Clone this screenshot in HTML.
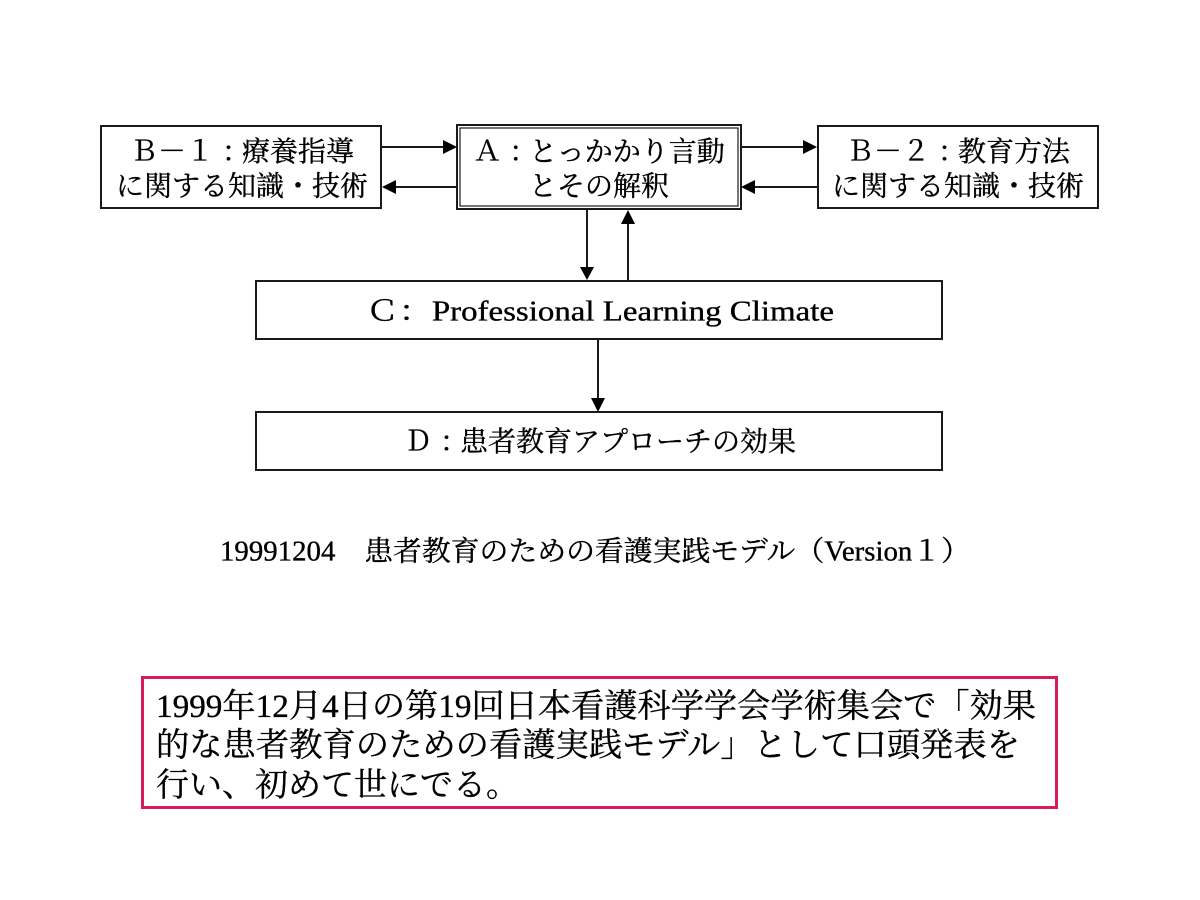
<!DOCTYPE html>
<html>
<head>
<meta charset="utf-8">
<style>
html,body{margin:0;padding:0;background:#fff;}
svg{display:block;}
text{font-family:"Liberation Serif","Noto Serif CJK SC","Noto Serif CJK JP",serif;fill:#000;stroke:#000;stroke-width:0.35;}
</style>
</head>
<body>
<svg width="1200" height="900" viewBox="0 0 1200 900" xmlns="http://www.w3.org/2000/svg">
<rect x="0" y="0" width="1200" height="900" fill="#fff"/>
<g fill="none" stroke="#1a1a1a" stroke-width="2">
  <!-- B-1 -->
  <rect x="101" y="126" width="280" height="82"/>
  <!-- A double border -->
  <rect x="457" y="125" width="284" height="84"/>
  <rect x="460" y="128" width="278" height="78" stroke-width="1.2"/>
  <!-- B-2 -->
  <rect x="818" y="126" width="280" height="82"/>
  <!-- C -->
  <rect x="256" y="281" width="686" height="58"/>
  <!-- D -->
  <rect x="256" y="412" width="686" height="58"/>
  <!-- connector lines -->
  <line x1="382" y1="147" x2="446" y2="147"/>
  <line x1="394" y1="187" x2="457" y2="187"/>
  <line x1="741" y1="147" x2="806" y2="147"/>
  <line x1="753" y1="187" x2="818" y2="187"/>
  <line x1="587" y1="210" x2="587" y2="270"/>
  <line x1="628" y1="222" x2="628" y2="281"/>
  <line x1="598" y1="340" x2="598" y2="401"/>
</g>
<g fill="#000">
  <polygon points="443,140 457,147 443,154"/>
  <polygon points="396,180 382,187 396,194"/>
  <polygon points="803,140 817,147 803,154"/>
  <polygon points="755,180 741,187 755,194"/>
  <polygon points="580,267 587,280 594,267"/>
  <polygon points="621,224 628,210 635,224"/>
  <polygon points="591,398 598,412 605,398"/>
</g>
<!-- texts -->
<g font-size="28" text-anchor="middle" dominant-baseline="central">
  <text x="242" y="152">Ｂ－１<tspan dx="8">：</tspan><tspan dx="-8">療養指導</tspan></text>
  <text x="242" y="187">に関する知識・技術</text>
  <text x="599" y="152">Ａ<tspan dx="8">：</tspan><tspan dx="-8">とっかかり言動</tspan></text>
  <text x="599" y="187">とその解釈</text>
  <text x="958" y="152">Ｂ－２<tspan dx="8">：</tspan><tspan dx="-8">教育方法</tspan></text>
  <text x="958" y="187">に関する知識・技術</text>
  <text x="600" y="312" textLength="468" lengthAdjust="spacingAndGlyphs">Ｃ：Professional Learning Climate</text>
  <text x="600" y="442">Ｄ<tspan dx="8">：</tspan><tspan dx="-8">患者教育アプローチの効果</tspan></text>
</g>
<text x="220" y="552" font-size="28" dominant-baseline="central" textLength="750" lengthAdjust="spacingAndGlyphs">19991204　患者教育のための看護実践モデル（Version１）</text>
<!-- bottom box -->
<rect x="142.5" y="677.5" width="914" height="130" fill="none" stroke="#d81b60" stroke-width="3"/>
<g font-size="33" dominant-baseline="central">
  <text x="156" y="707" textLength="880" lengthAdjust="spacingAndGlyphs">1999年12月4日の第19回日本看護科学学会学術集会で「効果</text>
  <text x="156" y="746" textLength="864" lengthAdjust="spacingAndGlyphs">的な患者教育のための看護実践モデル」として口頭発表を</text>
  <text x="156" y="786">行い、初めて世にでる。</text>
</g>
</svg>
</body>
</html>
